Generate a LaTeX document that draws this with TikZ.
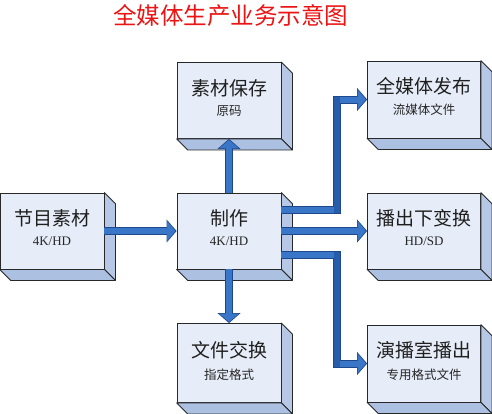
\documentclass[tikz,border=0pt]{standalone}
\usepackage{fontspec}
\setmainfont{Liberation Serif}
\newfontfamily\cjk{Noto Sans CJK SC}
\usetikzlibrary{arrows.meta,calc}
\definecolor{facecol}{RGB}{231,237,248}
\definecolor{sidecol}{RGB}{183,200,231}
\definecolor{bottomcol}{RGB}{172,192,226}
\definecolor{edgecol}{RGB}{40,40,40}
\definecolor{arrowblue}{RGB}{58,118,200}
\definecolor{arrowmid}{RGB}{40,92,170}
\definecolor{arrowdark}{RGB}{30,72,140}
\definecolor{titlered}{RGB}{235,20,20}
\tikzset{
  boxface/.style={draw=edgecol, line width=0.8pt, fill=facecol, inner sep=0pt,
    minimum width=104pt, minimum height=76pt},
  wideface/.style={boxface, minimum width=113pt},
  maintext/.style={font=\cjk\fontsize{19pt}{21pt}\selectfont, text=black!88, inner sep=0pt},
  subtext/.style={font=\cjk\fontsize{12.5pt}{14pt}\selectfont, text=black!85, inner sep=0pt},
  latintext/.style={font=\fontsize{13pt}{14pt}\selectfont, text=black!85, inner sep=0pt},
  titletext/.style={font=\cjk\fontsize{23.5pt}{26pt}\selectfont, text=titlered, inner sep=0pt},
  arrowouter/.style={line width=8pt, draw=arrowdark, line join=miter,
    -{Triangle[width=23pt,length=10pt,line width=0pt]}},
  arrowinner/.style={line width=6pt, draw=arrowblue, line join=miter, shorten >=1.2pt,
    -{Triangle[width=19.5pt,length=8.2pt,line width=0pt]}},
  elbowbar/.style={line width=6pt, draw=arrowmid},
}
\newcommand\cubefaces[1]{%
  \filldraw[fill=sidecol, draw=edgecol, line width=0.8pt, line join=round]
    (#1.north east) -- ++(11,11) -- ($(#1.south east)+(11,11)$) -- (#1.south east) -- cycle;
  \filldraw[fill=bottomcol, draw=edgecol, line width=0.8pt, line join=round]
    (#1.south west) -- (#1.south east) -- ($(#1.south east)+(11,11)$) -- ($(#1.south west)+(11,11)$) -- cycle;
}
\newcommand\bluearrow[1]{\draw[arrowouter] #1; \draw[arrowinner] #1;}
\begin{document}
\begin{tikzpicture}[x=1pt,y=-1pt]
\useasboundingbox (0,0) rectangle (492,413);
\fill[white] (0,0) rectangle (492,413);

\node[titletext] (title) at (230.5,16) {全媒体生产业务示意图};

% boxes
\node[boxface] (src) at (52,231) {};
\cubefaces{src}
\node[boxface] (store) at (229,100.5) {};
\cubefaces{store}
\node[boxface] (make) at (229,231) {};
\cubefaces{make}
\node[boxface, minimum height=79pt] (xchg) at (229,363) {};
\cubefaces{xchg}
\node[wideface, minimum height=77pt] (pub) at (424,99.5) {};
\cubefaces{pub}
\node[wideface] (down) at (424,231) {};
\cubefaces{down}
\node[wideface, minimum height=77pt] (studio) at (424,363.5) {};
\cubefaces{studio}

% texts
\node[maintext] (src-t) at ($(src.north)+(0,26)$) {节目素材};
\node[latintext] (src-s) at ($(src.north)+(0,49)$) {4K/HD};
\node[maintext] (store-t) at ($(store.north)+(0,26)$) {素材保存};
\node[subtext] (store-s) at ($(store.north)+(0,49)$) {原码};
\node[maintext] (make-t) at ($(make.north)+(0,26)$) {制作};
\node[latintext] (make-s) at ($(make.north)+(0,49)$) {4K/HD};
\node[maintext] (xchg-t) at ($(xchg.north)+(0,27)$) {文件交换};
\node[subtext] (xchg-s) at ($(xchg.north)+(0,52)$) {指定格式};
\node[maintext] (pub-t) at ($(pub.north)+(0,26)$) {全媒体发布};
\node[subtext] (pub-s) at ($(pub.north)+(0,49)$) {流媒体文件};
\node[maintext] (down-t) at ($(down.north)+(0,26)$) {播出下变换};
\node[latintext] (down-s) at ($(down.north)+(0,49)$) {HD/SD};
\node[maintext] (studio-t) at ($(studio.north)+(0,26)$) {演播室播出};
\node[subtext] (studio-s) at ($(studio.north)+(0,50)$) {专用格式文件};

% connectors
\coordinate (e1) at (337,209.5);
\coordinate (e2) at (337,254.5);
\bluearrow{(src.east) -- (make.west)}
\bluearrow{(make.north) -- (store.south)}
\bluearrow{(make.south) -- (xchg.north)}
\bluearrow{(make.east) -- (down.west)}
\bluearrow{(make.east |- e1) -- (e1) |- (pub.west)}
\bluearrow{(make.east |- e2) -- (e2) |- (studio.west)}
\draw[elbowbar] ($(e1)+(0,3)$) -- ($(e1 |- pub.west)+(0,-3)$);
\draw[elbowbar] ($(e2)+(0,-3)$) -- ($(e2 |- studio.west)+(0,3)$);
\end{tikzpicture}
\end{document}
